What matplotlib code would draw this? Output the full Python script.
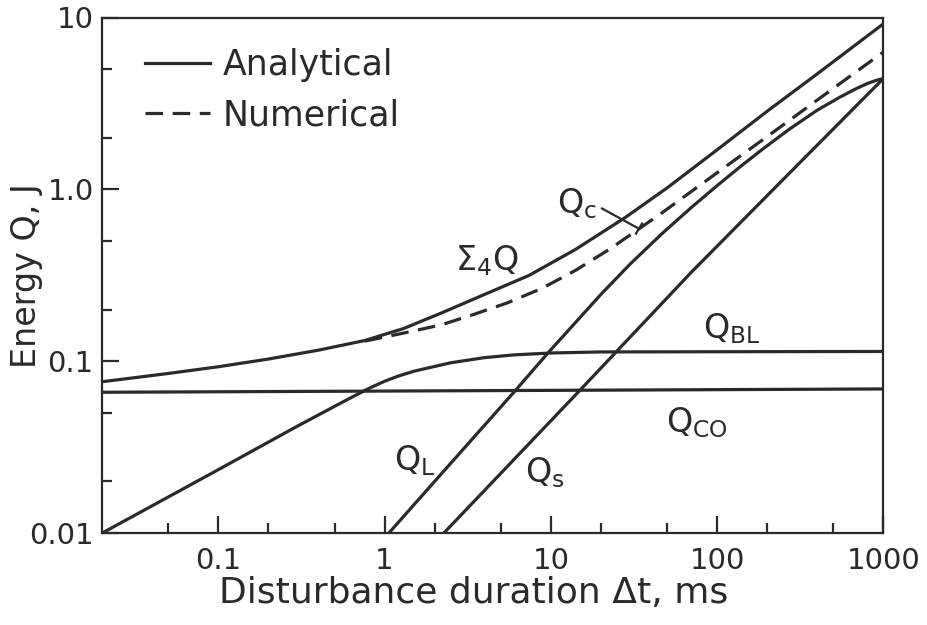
import matplotlib
matplotlib.use('Agg')
import matplotlib.pyplot as plt

# Disturbance duration (ms) and energy (J)
t_sum = [0.02, 0.05, 0.1, 0.2, 0.4, 0.76, 1.3, 2.2, 4, 7.4, 14, 28, 50, 100, 200, 400, 1000]
q_sum = [0.076, 0.0849, 0.0929, 0.103, 0.116, 0.132, 0.155, 0.191, 0.245, 0.316, 0.446, 0.686,
         1.02, 1.70, 2.85, 4.7, 9.2]

t_num = [0.76, 1.4, 2.2, 3.48, 5.5, 8.8, 14, 22.4, 44.9, 100, 200, 400, 1000]
q_num = [0.131, 0.148, 0.163, 0.188, 0.219, 0.265, 0.337, 0.447, 0.712, 1.25, 2.03, 3.31, 6.3]

t_low = [1.06, 2.0, 6.07, 9.7, 20, 30, 46.6, 70, 100, 140, 187, 270, 400, 550, 680, 800, 900, 1000]
q_low = [0.01, 0.02, 0.067, 0.113, 0.245, 0.368, 0.553, 0.785, 1.052, 1.373, 1.71, 2.23, 2.89,
         3.45, 3.84, 4.13, 4.3, 4.42]

t_s = [2.27, 15, 70, 240, 1000]
q_s = [0.01, 0.068, 0.33, 1.1, 4.42]

t_bl = [0.02, 0.1, 0.3, 0.6, 0.8, 1, 1.2, 1.5, 2.5, 4, 6, 10, 20, 1000]
q_bl = [0.01, 0.0234, 0.042, 0.060, 0.0693, 0.0765, 0.0818, 0.0875, 0.098, 0.105, 0.1089,
        0.1117, 0.1133, 0.114]

t_co = [0.02, 1000]
q_co = [0.066, 0.069]

x_ticks = [0.1, 1, 10, 100, 1000]
x_labels = ['0.1', '1', '10', '100', '1000']
y_ticks = [0.01, 0.1, 1, 10]
y_labels = ['0.01', '0.1', '1.0', '10']
minor = [2, 5]

ink = '#2a2a2a'
lw = 2.3
plt.rcParams['font.family'] = ['DejaVu Sans']
plt.rcParams['mathtext.fontset'] = 'dejavusans'

fig = plt.figure(figsize=(9.28, 6.25), dpi=100)
ax = fig.add_axes([0.110, 0.147, 0.842, 0.825])

ax.plot(t_sum, q_sum, color=ink, lw=lw, label='Analytical')
ax.plot(t_num, q_num, color=ink, lw=lw, ls=(0, (5.5, 3)), label='Numerical')
ax.plot(t_low, q_low, color=ink, lw=lw)
ax.plot(t_s, q_s, color=ink, lw=lw)
ax.plot(t_bl, q_bl, color=ink, lw=lw)
ax.plot(t_co, q_co, color=ink, lw=lw)

ax.set_xscale('log')
ax.set_yscale('log')
ax.set_xlim(0.02, 1000)
ax.set_ylim(0.01, 10)

ax.set_xticks(x_ticks, x_labels)
ax.set_yticks(y_ticks, y_labels)
xm = [m * 10.0 ** e for e in range(-2, 3) for m in minor]
ym = [m * 10.0 ** e for e in range(-2, 1) for m in minor]
ax.set_xticks([v for v in xm if 0.02 < v < 1000], minor=True)
ax.set_yticks(ym, minor=True)
ax.xaxis.set_minor_formatter(matplotlib.ticker.NullFormatter())
ax.yaxis.set_minor_formatter(matplotlib.ticker.NullFormatter())
ax.tick_params(which='both', direction='in', color=ink, width=1.6, labelcolor=ink, labelsize=21)
ax.tick_params(which='major', length=12)
ax.tick_params(which='minor', length=7)
ax.tick_params(axis='x', pad=10)
ax.tick_params(axis='y', pad=6)
for s in ax.spines.values():
    s.set_color(ink)
    s.set_linewidth(1.6)

ax.set_xlabel('Disturbance duration \u0394t, ms', fontsize=26, color=ink, va='top')
ax.xaxis.set_label_coords(0.475, -0.083)
ax.set_ylabel('Energy Q, J', fontsize=24, color=ink, va='center')
ax.yaxis.set_label_coords(-0.097, 0.5)

# curve labels
lab = dict(color=ink, fontsize=24, ha='center', va='center')
ax.text(4.11, 0.385, r'$\Sigma_4$Q', **lab)
ax.text(14.3, 0.83, r'Q$_\mathregular{c}$', **lab)
ax.text(123, 0.154, r'Q$_\mathregular{BL}$', **lab)
ax.text(75.7, 0.044, r'Q$_\mathregular{CO}$', **lab)
ax.text(9.2, 0.0224, r'Q$_\mathregular{s}$', **lab)
ax.text(1.52, 0.0264, r'Q$_\mathregular{L}$', **lab)
ax.plot([20.3, 33.9], [0.774, 0.59], color=ink, lw=1.6)
ax.plot([32.5, 35.3], [0.553, 0.632], color=ink, lw=1.6)

leg = ax.legend(loc='upper left', bbox_to_anchor=(0.055, 0.94), frameon=False,
                fontsize=25, handlelength=1.87, handletextpad=0.37,
                labelspacing=0.45, borderpad=0, borderaxespad=0)
for t in leg.get_texts():
    t.set_color(ink)

fig.savefig('out.png', dpi=100)
